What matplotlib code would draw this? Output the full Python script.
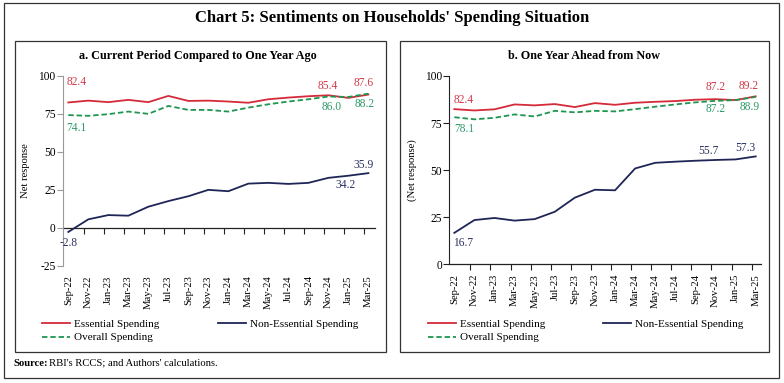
import matplotlib
matplotlib.use('Agg')
import matplotlib.pyplot as plt
from matplotlib.patches import Rectangle

plt.rcParams['font.family'] = ['Liberation Serif', 'DejaVu Serif']
plt.rcParams['axes.unicode_minus'] = False

months = ['Sep-22', 'Nov-22', 'Jan-23', 'Mar-23', 'May-23', 'Jul-23', 'Sep-23', 'Nov-23',
          'Jan-24', 'Mar-24', 'May-24', 'Jul-24', 'Sep-24', 'Nov-24', 'Jan-25', 'Mar-25']

# a. current period compared to one year ago
ess_now = [82.4, 83.6, 82.6, 84.1, 82.6, 86.7, 83.4, 83.6, 83.0, 82.2, 84.5, 85.6, 86.5, 87.1, 85.4, 87.6]
noness_now = [-2.8, 5.5, 8.3, 7.9, 13.8, 17.5, 20.7, 24.9, 24.0, 29.0, 29.5, 28.8, 29.5, 32.8, 34.2, 35.9]
overall_now = [74.1, 73.6, 74.7, 76.4, 74.9, 80.1, 77.5, 77.5, 76.4, 79.0, 81.2, 83.0, 84.5, 86.3, 86.0, 88.2]

# b. one year ahead from now
ess_ahead = [82.4, 81.7, 82.3, 84.9, 84.4, 85.1, 83.5, 85.6, 84.7, 85.8, 86.3, 86.7, 87.4, 87.7, 87.2, 89.2]
noness_ahead = [16.7, 23.5, 24.6, 23.2, 24.0, 27.9, 35.4, 39.6, 39.3, 50.9, 53.9, 54.5, 55.0, 55.4, 55.7, 57.3]
overall_ahead = [78.1, 77.0, 77.8, 79.6, 78.5, 81.5, 80.7, 81.5, 81.2, 82.4, 83.7, 84.9, 86.0, 86.8, 87.2, 88.9]

RED = '#d42a3a'
NAVY = '#1f2556'
GREEN = '#1f9650'
RED_T = '#d03a4a'
GREEN_T = '#2e9a68'
NAVY_T = '#2a3162'

W, H = 784, 383
fig = plt.figure(figsize=(W / 100, H / 100), dpi=100)


def fx(px):
    return px / W


def fy(py):
    return (H - py) / H


# outer frame and panel boxes
fig.patches.append(Rectangle((fx(4), fy(378)), fx(779) - fx(4), fy(3) - fy(378),
                             transform=fig.transFigure, fill=False, lw=0.9, ec='#333333'))
fig.patches.append(Rectangle((fx(15), fy(352)), fx(386) - fx(15), fy(41) - fy(352),
                             transform=fig.transFigure, fill=False, lw=0.9, ec='#333333'))
fig.patches.append(Rectangle((fx(400), fy(352)), fx(769) - fx(400), fy(41) - fy(352),
                             transform=fig.transFigure, fill=False, lw=0.9, ec='#333333'))

fig.text(fx(392), fy(18), "Chart 5: Sentiments on Households' Spending Situation",
         ha='center', va='center', fontsize=12, fontweight='bold')
fig.text(fx(198), fy(56), 'a. Current Period Compared to One Year Ago',
         ha='center', va='center', fontsize=8.7, fontweight='bold')
fig.text(fx(584), fy(56), 'b. One Year Ahead from Now',
         ha='center', va='center', fontsize=8.7, fontweight='bold')
fig.text(fx(13), fy(363), 'Source:', ha='left', va='center', fontsize=7.7, fontweight='bold')
fig.text(fx(49), fy(363), "RBI's RCCS; and Authors' calculations.", ha='left', va='center', fontsize=7.7)

x = list(range(len(months)))
boundaries = [i + 0.8 for i in range(len(months) - 1)]


def panel(rect, ess, noness, overall, ylim, yticks, ylabel, spine_col, xlim, labels, leg_x, leg_y):
    l, b, r, t = rect
    ax = fig.add_axes([fx(l), fy(b), fx(r) - fx(l), fy(t) - fy(b)])
    ax.plot(x, ess, color=RED, lw=1.3, label='Essential Spending')
    ax.plot(x, noness, color=NAVY, lw=1.3, label='Non-Essential Spending')
    ax.plot(x, overall, color=GREEN, lw=1.3, ls=(0, (3, 1.6)), label='Overall Spending')
    ax.set_ylim(*ylim)
    ax.set_xlim(*xlim)
    ax.set_yticks(yticks)
    for s in ['top', 'right', 'bottom']:
        ax.spines[s].set_visible(False)
    ax.spines['left'].set_color(spine_col)
    ax.tick_params(axis='y', labelsize=8.3, length=4, width=0.8, color=spine_col, pad=1)
    ax.set_xticks(x)
    ax.set_xticklabels(months, rotation=90, fontsize=7.7)
    ax.tick_params(axis='x', length=0, pad=7)
    ax.set_ylabel(ylabel, fontsize=7.7)
    ax.yaxis.set_label_coords(-0.105, 0.5)
    # category axis crossing at zero
    zero = (0 - ylim[0]) / (ylim[1] - ylim[0])
    sec = ax.secondary_xaxis(zero)
    sec.set_xticks(boundaries)
    sec.set_xticklabels([])
    sec.tick_params(length=4, width=0.8, direction='out', color='#222222')
    sec.spines['bottom'].set_color('#222222')
    sec.spines['bottom'].set_linewidth(0.9)

    series = {'ess': ess, 'non': noness, 'all': overall}
    cols = {'ess': RED_T, 'non': NAVY_T, 'all': GREEN_T}
    for key, idx, dx, dy in labels:
        val = series[key][idx]
        ax.annotate(f'{val:.1f}', (idx, val), xytext=(dx, dy), textcoords='offset pixels',
                    ha='center', va='center', fontsize=8.3, color=cols[key])

    h, lab = ax.get_legend_handles_labels()
    leg1 = ax.legend([h[0], h[2]], [lab[0], lab[2]], loc='center left',
                     bbox_to_anchor=(fx(leg_x[0]), fy(leg_y + 7)), bbox_transform=fig.transFigure,
                     frameon=False, fontsize=8, handlelength=2.5, handletextpad=0.35,
                     borderpad=0, borderaxespad=0, labelspacing=0.3)
    ax.add_artist(leg1)
    ax.legend([h[1]], [lab[1]], loc='center left',
              bbox_to_anchor=(fx(leg_x[1]), fy(leg_y)), bbox_transform=fig.transFigure,
              frameon=False, fontsize=8, handlelength=2.5, handletextpad=0.35,
              borderpad=0, borderaxespad=0)
    return ax


panel((62.7, 265.7, 375, 75.7), ess_now, noness_now, overall_now, (-25, 100),
      [-25, 0, 25, 50, 75, 100], 'Net response', '#9a9a9a', (-0.28, 15.33),
      [('ess', 0, 8, 20), ('all', 0, 8, -13), ('non', 0, 0, -11),
       ('ess', 14, -21, 12), ('ess', 15, -5, 12), ('all', 14, -17, -10), ('all', 15, -4, -10),
       ('non', 15, -5, 8), ('non', 14, -3, -9)],
      (42, 218), 324)

panel((449.3, 264.3, 760.7, 76), ess_ahead, noness_ahead, overall_ahead, (0, 100),
      [0, 25, 50, 75, 100], '(Net response)', '#222222', (-0.25, 15.25),
      [('ess', 0, 9, 9), ('all', 0, 10, -12), ('non', 0, 9, -10),
       ('ess', 14, -20, 13), ('ess', 15, -7, 10), ('all', 14, -20, -9), ('all', 15, -6, -10),
       ('non', 14, -27, 8), ('non', 15, -10, 8)],
      (428, 603), 324)

fig.savefig('out.png', dpi=100)
